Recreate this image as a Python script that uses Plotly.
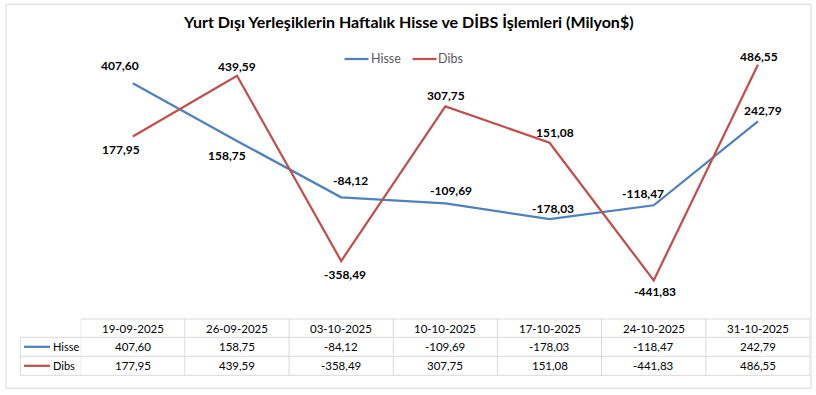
import plotly.graph_objects as go

# ---------------- data ----------------
categories = ["19-09-2025", "26-09-2025", "03-10-2025", "10-10-2025",
              "17-10-2025", "24-10-2025", "31-10-2025"]
hisse = [407.60, 158.75, -84.12, -109.69, -178.03, -118.47, 242.79]
dibs = [177.95, 439.59, -358.49, 307.75, 151.08, -441.83, 486.55]
series_names = ["Hisse", "Dibs"]
title_text = "Yurt Dışı Yerleşiklerin Haftalık Hisse ve DİBS İşlemleri (Milyon$)"

# ---------------- style ----------------
W, H = 816, 395
COLORS = ["#4F81BD", "#C0504D"]
FONT = "Lato, 'Open Sans', sans-serif"
GRID = "#D9D9D9"

# label offsets (pixels) for each series
hisse_shift = [(-13, 18), (-10, -15), (9, 17), (6, 13), (3, 11), (-11, 12), (5, 11)]
dibs_shift = [(-12, -13), (0, 9), (4, -13), (1, 11), (5, 10), (1, -11), (1, 8)]


def px_x(p):
    return p / W


def px_y(p):
    return 1 - p / H


def fmt(v):
    return f"{v:.2f}".replace(".", ",")


fig = go.Figure()
series_vals = [hisse, dibs]
for name, vals, col in zip(series_names, series_vals, COLORS):
    fig.add_trace(go.Scatter(
        x=categories, y=vals, mode="lines", name=name,
        line=dict(color=col, width=2.25), showlegend=False, hoverinfo="skip"))

annotations = []
shapes = []

# data labels
for vals, shifts in zip(series_vals, [hisse_shift, dibs_shift]):
    for c, v, (dx, dy) in zip(categories, vals, shifts):
        annotations.append(dict(
            x=c, y=v, xref="x", yref="y", text=f"<b>{fmt(v)}</b>",
            showarrow=False, xshift=dx, yshift=dy,
            xanchor="center", yanchor="middle",
            font=dict(family=FONT, size=12, color="#000000")))

# title
annotations.append(dict(
    x=px_x(408), y=px_y(22), xref="paper", yref="paper",
    text=f"<b>{title_text}</b>", showarrow=False,
    xanchor="center", yanchor="middle",
    font=dict(family=FONT, size=16, color="#000000")))

# top legend
leg_items = [(344.5, 368.5, 369), (412.7, 436.5, 436)]
for name, col, (l0, l1, tx) in zip(series_names, COLORS, leg_items):
    shapes.append(dict(type="line", xref="paper", yref="paper",
                       x0=px_x(l0), x1=px_x(l1), y0=px_y(59), y1=px_y(59),
                       line=dict(color=col, width=2.25)))
    annotations.append(dict(x=px_x(tx), y=px_y(58.5), xref="paper", yref="paper",
                            text=name, showarrow=False, xanchor="left", yanchor="middle",
                            font=dict(family=FONT, size=12.5, color="#595959")))

# outer border
shapes.append(dict(type="rect", xref="paper", yref="paper",
                   x0=px_x(6), x1=px_x(811), y0=px_y(4.3), y1=px_y(388.3),
                   line=dict(color=GRID, width=1), fillcolor="rgba(0,0,0,0)"))

# data table
row_y = [319, 337.3, 356.3, 375.3]
n = len(categories)
shapes.append(dict(type="line", xref="x", yref="paper", x0=-0.5, x1=n - 0.5,
                   y0=px_y(row_y[0]), y1=px_y(row_y[0]), line=dict(color=GRID, width=1)))
for ry in row_y[1:]:
    shapes.append(dict(type="line", xref="paper", yref="paper", x0=px_x(20.3), x1=px_x(810),
                       y0=px_y(ry), y1=px_y(ry), line=dict(color=GRID, width=1)))
for k in range(n + 1):
    shapes.append(dict(type="line", xref="x", yref="paper", x0=k - 0.5, x1=k - 0.5,
                       y0=px_y(row_y[0]), y1=px_y(row_y[-1]), line=dict(color=GRID, width=1)))
shapes.append(dict(type="line", xref="paper", yref="paper", x0=px_x(20.3), x1=px_x(20.3),
                   y0=px_y(row_y[1]), y1=px_y(row_y[-1]), line=dict(color=GRID, width=1)))

row_centers = [(row_y[i] + row_y[i + 1]) / 2 for i in range(3)]
for c in categories:
    annotations.append(dict(x=c, y=px_y(row_centers[0]), xref="x", yref="paper",
                            text=c, showarrow=False, xanchor="center", yanchor="middle",
                            font=dict(family=FONT, size=11.5, color="#000000")))
for r, (name, vals, col) in enumerate(zip(series_names, series_vals, COLORS), start=1):
    yc = row_centers[r]
    shapes.append(dict(type="line", xref="paper", yref="paper", x0=px_x(24), x1=px_x(50),
                       y0=px_y(yc), y1=px_y(yc), line=dict(color=col, width=2.25)))
    annotations.append(dict(x=px_x(50.5), y=px_y(yc), xref="paper", yref="paper",
                            text=name, showarrow=False, xanchor="left", yanchor="middle",
                            font=dict(family=FONT, size=11, color="#000000")))
    for c, v in zip(categories, vals):
        annotations.append(dict(x=c, y=px_y(yc), xref="x", yref="paper",
                                text=fmt(v), showarrow=False,
                                xanchor="center", yanchor="middle",
                                font=dict(family=FONT, size=11.5, color="#000000")))

fig.update_layout(
    width=W, height=H, margin=dict(l=0, r=0, t=0, b=0),
    paper_bgcolor="white", plot_bgcolor="white",
    annotations=annotations, shapes=shapes,
    xaxis=dict(type="category", range=[-0.5, n - 0.5],
               domain=[px_x(80.7), px_x(810)], showticklabels=False,
               showgrid=False, zeroline=False, showline=False, ticks=""),
    yaxis=dict(range=[-600, 600], domain=[px_y(317.1), px_y(38.5)],
               showticklabels=False, showgrid=False, zeroline=False,
               showline=False, ticks=""),
)

fig.write_html("out.html", config={"displayModeBar": False},
               post_script="document.body.style.margin='0';")
